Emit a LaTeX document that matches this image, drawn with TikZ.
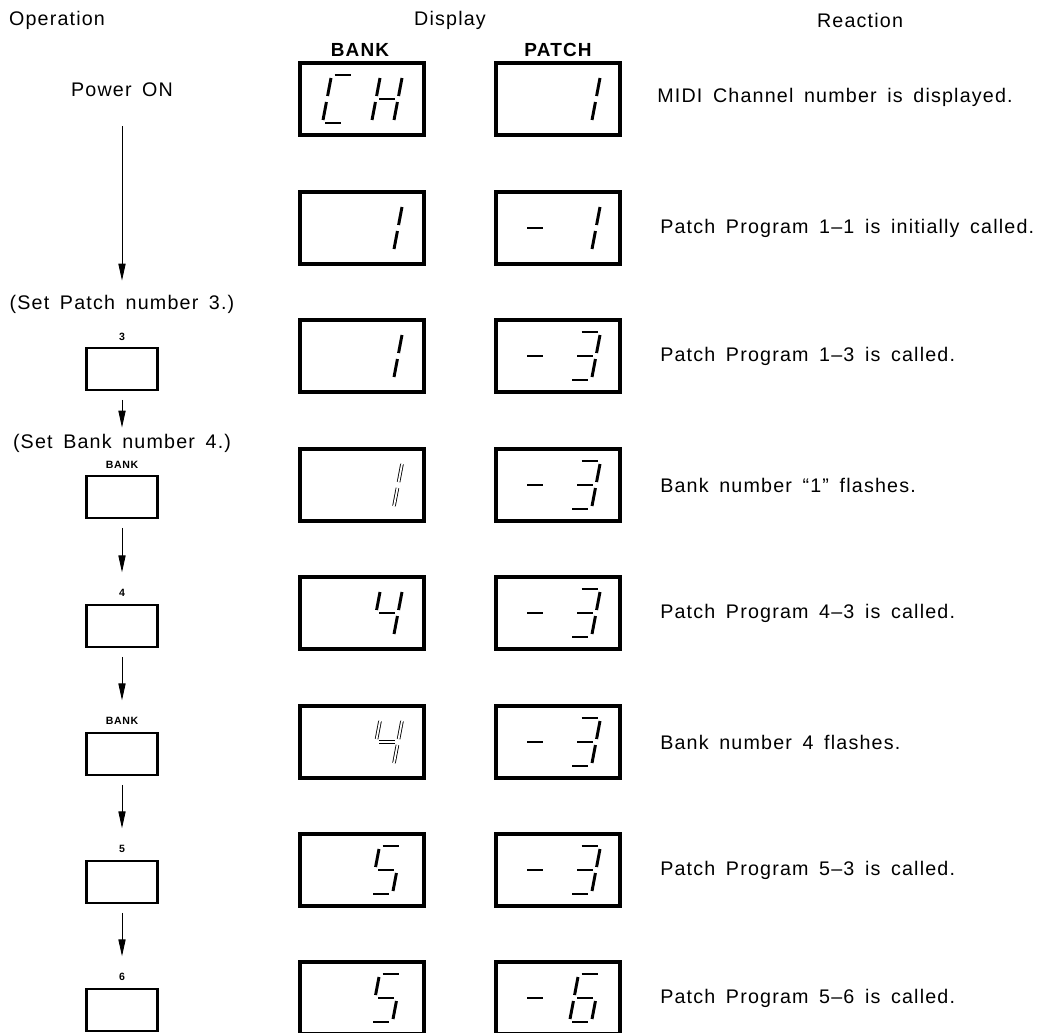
\documentclass[tikz,border=0pt]{standalone}
\usepackage{fontspec}
\setmainfont{Liberation Sans}[LetterSpace=6,WordSpace=1.6]
\usetikzlibrary{arrows.meta}
\usetikzlibrary{calc}

% one slanted seven-segment digit: [style] {display node}{x offset}{segments}
\newcommand{\lcdigit}[4][seg]{%
  \begin{scope}[shift={($(#2)+(#3,0)$)}, xslant=0.19]
    \coordinate (sa1) at (-8,-24); \coordinate (sa2) at (8,-24);
    \coordinate (sb1) at (11,-21); \coordinate (sb2) at (11,-3);
    \coordinate (sc1) at (11,3);   \coordinate (sc2) at (11,21);
    \coordinate (sd1) at (-8,24);  \coordinate (sd2) at (8,24);
    \coordinate (se1) at (-11,3);  \coordinate (se2) at (-11,21);
    \coordinate (sf1) at (-11,-21);\coordinate (sf2) at (-11,-3);
    \coordinate (sg1) at (-8,0);   \coordinate (sg2) at (8,0);
    \foreach \sg in {#4} {\draw[#1] (s\sg1) -- (s\sg2);}
  \end{scope}}

\tikzset{
  lcd/.style={draw, line width=2.4pt, minimum width=3.1cm, minimum height=1.8cm, inner sep=0pt},
  key/.style={draw, line width=1.5pt, minimum width=1.775cm, minimum height=1.05cm, inner sep=0pt},
  txt/.style={inner sep=0pt, font=\fontsize{14}{16}\selectfont},
  keylbl/.style={inner sep=0pt, font=\fontsize{7.5}{9}\selectfont\bfseries},
  head/.style={inner sep=0pt, font=\fontsize{13.5}{15}\selectfont\bfseries},
  seg/.style={line width=2.1pt},
  flash/.style={line width=0.6pt, double, double distance=1.3pt},
  arr/.style={line width=0.6pt, -{Triangle[length=0.42cm,width=0.18cm]},
    shorten <=0.22cm, shorten >=0.42cm}
}

\begin{document}
\begin{tikzpicture}[x=0.025cm, y=-0.025cm]
        \useasboundingbox (0,0) rectangle (1037,1032);

        % Column heads
        \node[txt] (op) at (57,20) {Operation};
        \node[txt] (disp) at (450,20) {Display};
        \node[txt] (reac) at (860,20) {Reaction};
        \node[head] (bank) at (360,50) {BANK};
        \node[head] (patch) at (558,50) {PATCH};

        % Displays
        \node[lcd] (bk1) at (362,99) {};  \node[lcd] (pt1) at (558,99) {};
        \node[lcd] (bk2) at (362,228) {};  \node[lcd] (pt2) at (558,228) {};
        \node[lcd] (bk3) at (362,356) {};  \node[lcd] (pt3) at (558,356) {};
        \node[lcd] (bk4) at (362,485) {};  \node[lcd] (pt4) at (558,485) {};
        \node[lcd] (bk5) at (362,613) {};  \node[lcd] (pt5) at (558,613) {};
        \node[lcd] (bk6) at (362,742) {};  \node[lcd] (pt6) at (558,742) {};
        \node[lcd] (bk7) at (362,870) {};  \node[lcd] (pt7) at (558,870) {};
        \node[lcd] (bk8) at (362,998) {};  \node[lcd] (pt8) at (558,998) {};

        % Bank digits
        \lcdigit{bk1}{-24}{a,d,e,f}
        \lcdigit{bk1}{25}{b,c,e,f,g}
        \lcdigit{bk2}{25}{b,c}
        \lcdigit{bk3}{25}{b,c}
        \lcdigit[flash]{bk4}{25}{b,c}
        \lcdigit{bk5}{25}{b,c,f,g}
        \lcdigit[flash]{bk6}{25}{b,c,f,g}
        \lcdigit{bk7}{24}{a,c,d,f,g}
        \lcdigit{bk8}{24}{a,c,d,f,g}

        % Patch digits
        \lcdigit{pt1}{27}{b,c}
        \lcdigit{pt2}{-23}{g}  \lcdigit{pt2}{27}{b,c}
        \lcdigit{pt3}{-23}{g}  \lcdigit{pt3}{27}{a,b,c,d,g}
        \lcdigit{pt4}{-23}{g}  \lcdigit{pt4}{27}{a,b,c,d,g}
        \lcdigit{pt5}{-23}{g}  \lcdigit{pt5}{27}{a,b,c,d,g}
        \lcdigit{pt6}{-23}{g}  \lcdigit{pt6}{27}{a,b,c,d,g}
        \lcdigit{pt7}{-23}{g}  \lcdigit{pt7}{27}{a,b,c,d,g}
        \lcdigit{pt8}{-23}{g}  \lcdigit{pt8}{27}{a,c,d,e,f,g}

        % Reactions
        \node[txt, anchor=west] (re1) at (657,97) {MIDI Channel number is displayed.};
        \node[txt, anchor=west] (re2) at (660,228) {Patch Program 1--1 is initially called.};
        \node[txt, anchor=west] (re3) at (660,356) {Patch Program 1--3 is called.};
        \node[txt, anchor=west] (re4) at (660,485) {Bank number ``1'' flashes.};
        \node[txt, anchor=west] (re5) at (660,613) {Patch Program 4--3 is called.};
        \node[txt, anchor=west] (re6) at (660,742) {Bank number 4 flashes.};
        \node[txt, anchor=west] (re7) at (660,870) {Patch Program 5--3 is called.};
        \node[txt, anchor=west] (re8) at (660,998) {Patch Program 5--6 is called.};

        % Operation
        \node[txt] (pwr) at (122,90) {Power ON};
        \node[txt] (setp) at (122,304) {(Set Patch number 3.)};
        \node[keylbl] (l1) at (122,337) {3};
        \node[key] (k1) at (122,369) {};
        \node[txt] (setb) at (122,443) {(Set Bank number 4.)};
        \node[keylbl] (l2) at (122,465) {BANK};
        \node[key] (k2) at (122,497) {};
        \node[keylbl] (l3) at (122,593) {4};
        \node[key] (k3) at (122,626) {};
        \node[keylbl] (l4) at (122,721) {BANK};
        \node[key] (k4) at (122,754) {};
        \node[keylbl] (l5) at (122,849) {5};
        \node[key] (k5) at (122,882) {};
        \node[keylbl] (l6) at (122,977) {6};
        \node[key] (k6) at (122,1010) {};

        \draw[arr, shorten <=0.72cm, shorten >=0.35cm] (pwr) -- (setp);
        \draw[arr, shorten >=0.15cm] (k1) -- (setb);
        \draw[arr] (k2) -- (l3);
        \draw[arr] (k3) -- (l4);
        \draw[arr] (k4) -- (l5);
        \draw[arr] (k5) -- (l6);
\end{tikzpicture}
\end{document}
